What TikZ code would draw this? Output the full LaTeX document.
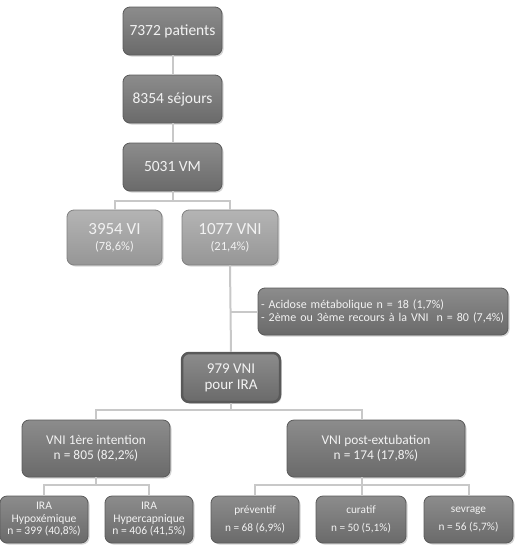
\documentclass[tikz,border=0pt]{standalone}
\usepackage{fontspec}
\setmainfont{Carlito}
\usetikzlibrary{shadows}
\definecolor{boxtop}{HTML}{8C8C8C}
\definecolor{boxbot}{HTML}{6A6A6A}
\definecolor{lbtop}{HTML}{B4B4B4}
\definecolor{lbbot}{HTML}{969696}
\definecolor{boxedge}{HTML}{5A5A5A}
\definecolor{lbedge}{HTML}{808080}
\definecolor{linkcol}{HTML}{C8C8C8}
\definecolor{txt}{HTML}{F2F2F2}
\tikzset{
  darkbox/.style={draw=boxedge, line width=0.8pt, rounded corners=7pt, top color=boxtop, bottom color=boxbot,
    text=txt, align=center, inner sep=2pt, drop shadow={opacity=0.35, shadow xshift=1.5pt, shadow yshift=-1.5pt}},
  lightbox/.style={draw=lbedge, line width=0.8pt, rounded corners=7pt, top color=lbtop, bottom color=lbbot,
    text=txt, align=center, inner sep=2pt, drop shadow={opacity=0.3, shadow xshift=1.5pt, shadow yshift=-1.5pt}},
  link/.style={draw=linkcol, line width=2pt}
}
\begin{document}
\begin{tikzpicture}[x=1pt,y=-1pt]
\useasboundingbox (0,0) rectangle (526,558);
\coordinate (busA) at (172.5,201);
\coordinate (busB) at (231,410);
\coordinate (busC) at (96,485);
\coordinate (busD) at (362,485);
\coordinate (jr) at (362,410);

\node[darkbox, minimum width=99pt, minimum height=48pt, font=\fontsize{15.5}{18}\selectfont] (p) at (172.5,31) {7372 patients};
\node[darkbox, minimum width=99pt, minimum height=48pt, font=\fontsize{15.5}{18}\selectfont] (s) at (172.5,99) {8354 séjours};
\node[darkbox, minimum width=99pt, minimum height=48pt, font=\fontsize{15.5}{18}\selectfont] (vm) at (172.5,167) {5031 VM};
\node[lightbox, minimum width=95pt, minimum height=55pt, font=\fontsize{17}{16}\selectfont] (vi) at (114.5,237.5)
  {3954 VI\\{\fontsize{12.5}{13}\selectfont (78,6\%)}};
\node[lightbox, minimum width=96pt, minimum height=55pt, font=\fontsize{17}{16}\selectfont] (vni) at (230,237.5)
  {1077 VNI\\{\fontsize{12.5}{13}\selectfont (21,4\%)}};
\node[darkbox, inner xsep=3pt, text width=244pt, minimum height=47pt, align=left, font=\fontsize{12}{12.5}\selectfont] (side) at (383,311.5)
  {\mbox{- Acidose métabolique n = 18 (1,7\%)}\\\mbox{- 2ème ou 3ème recours à la VNI\ \ n = 80 (7,4\%)}};
\node[darkbox, line width=2.5pt, draw=gray!70!black, minimum width=98pt, minimum height=49pt, font=\fontsize{15}{16}\selectfont] (ira) at (231,377.5)
  {979 VNI\\pour IRA};
\node[darkbox, minimum width=148pt, minimum height=57pt, font=\fontsize{13.4}{15}\selectfont] (first) at (96,448.5)
  {VNI 1ère intention\\n = 805 (82,2\%)};
\node[darkbox, minimum width=178pt, minimum height=57pt, font=\fontsize{13.4}{15}\selectfont] (post) at (376,448.5)
  {VNI post-extubation\\n = 174 (17,8\%)};
\node[darkbox, minimum width=88pt, minimum height=47pt, font=\fontsize{11.6}{12.5}\selectfont] (hypo) at (44,519.5)
  {IRA\\Hypoxémique\\n = 399 (40,8\%)};
\node[darkbox, minimum width=88pt, minimum height=47pt, font=\fontsize{11.6}{12.5}\selectfont] (hyper) at (149,519.5)
  {IRA\\Hypercapnique\\n = 406 (41,5\%)};
\node[darkbox, minimum width=88pt, minimum height=47pt, font=\fontsize{11.3}{18}\selectfont] (prev) at (255,519.5)
  {préventif\\n = 68 (6,9\%)};
\node[darkbox, minimum width=90pt, minimum height=47pt, font=\fontsize{11.3}{18}\selectfont] (cur) at (361,519.5)
  {curatif\\n = 50 (5,1\%)};
\node[darkbox, minimum width=89pt, minimum height=47pt, font=\fontsize{11.3}{18}\selectfont] (sev) at (468.5,519.5)
  {sevrage\\n = 56 (5,7\%)};

\path[link] (p.south) -- (s.north);
\path[link] (s.south) -- (vm.north);
\path[link] (vm.south) -- (busA);
\path[link] (vi.north) |- (busA) -| (vni.north);
\path[link] (vni.south) -- (ira.north);
\path[link] (side.west) -- (side.west -| vni.south);
\path[link] (ira.south) -- (busB);
\path[link] (first.north) |- (busB) -- (jr) -- (jr |- post.north);
\path[link] (first.south) -- (busC);
\path[link] (hypo.north) |- (busC) -| (hyper.north);
\path[link] (busD |- post.south) -- (busD);
\path[link] (prev.north) |- (busD) -| (sev.north);
\path[link] (busD) -- (busD |- cur.north);
\end{tikzpicture}
\end{document}
